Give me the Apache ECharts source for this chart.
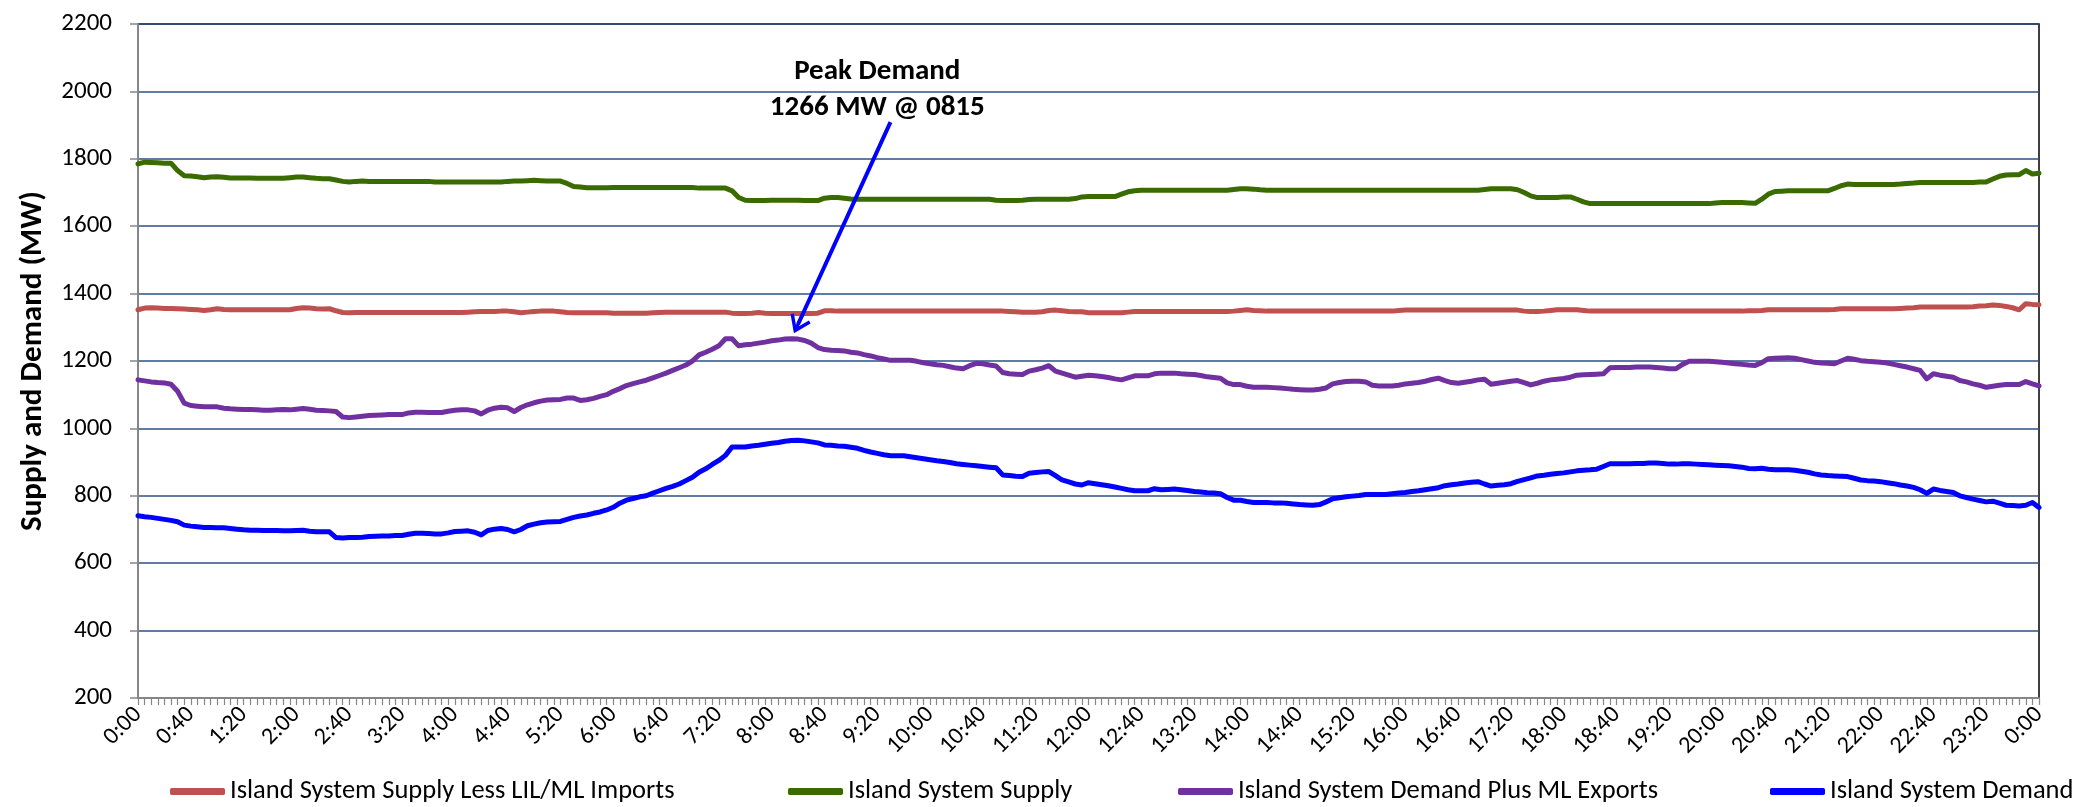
<!DOCTYPE html>
<html>
<head>
<meta charset="utf-8">
<script src="https://cdn.jsdelivr.net/npm/echarts@6/dist/echarts.min.js"></script>
<style>
  html, body { margin: 0; padding: 0; background: #fff; }
  #chart { width: 2080px; height: 807px; }
</style>
</head>
<body>
<div id="chart"></div>
<script>
// x categories: 5 minute steps, 0:00 through the next 0:00
const times = [];
for (let m = 0; m <= 1440; m += 5) {
  const h = Math.floor(m / 60) % 24, mm = m % 60;
  times.push(h + ':' + (mm < 10 ? '0' : '') + mm);
}

const seriesNames = [
  'Island System Supply Less LIL/ML Imports',
  'Island System Supply',
  'Island System Demand Plus ML Exports',
  'Island System Demand'
];

// one row per hour (12 x 5 min), last value is 0:00 next day
const supplyLessImports = [
  1352,1357,1358,1357,1356,1356,1355,1354,1353,1352,1350,1352,
  1355,1353,1352,1352,1352,1352,1352,1352,1352,1352,1352,1352,
  1356,1358,1357,1355,1354,1355,1349,1344,1343,1344,1344,1344,
  1344,1344,1344,1344,1344,1344,1344,1344,1344,1344,1344,1344,
  1344,1344,1345,1346,1347,1347,1347,1348,1348,1346,1343,1345,
  1347,1348,1348,1348,1346,1344,1343,1343,1343,1343,1343,1343,
  1342,1342,1342,1342,1342,1342,1343,1344,1345,1345,1345,1345,
  1345,1345,1345,1345,1345,1345,1342,1341,1341,1342,1344,1342,
  1341,1341,1341,1341,1341,1341,1341,1342,1349,1349,1348,1348,
  1348,1348,1348,1348,1348,1348,1348,1348,1348,1348,1348,1348,
  1348,1348,1348,1348,1348,1348,1348,1348,1348,1348,1348,1348,
  1347,1346,1345,1345,1345,1346,1350,1351,1349,1347,1346,1346,
  1343,1343,1343,1343,1343,1343,1345,1347,1347,1347,1347,1347,
  1347,1347,1347,1347,1347,1347,1347,1347,1347,1347,1348,1350,
  1352,1350,1349,1348,1348,1348,1348,1348,1348,1348,1348,1348,
  1348,1348,1348,1348,1348,1348,1348,1348,1348,1348,1348,1350,
  1351,1351,1351,1351,1351,1351,1351,1351,1351,1351,1351,1351,
  1351,1351,1351,1351,1351,1351,1348,1347,1347,1348,1350,1352,
  1352,1352,1352,1350,1348,1348,1348,1348,1348,1348,1348,1348,
  1348,1348,1348,1348,1348,1348,1348,1348,1348,1348,1348,1348,
  1348,1348,1348,1348,1349,1349,1350,1352,1352,1352,1352,1352,
  1352,1352,1352,1352,1352,1353,1355,1355,1355,1355,1355,1355,
  1355,1355,1355,1356,1357,1358,1360,1360,1360,1360,1360,1360,
  1360,1360,1361,1363,1364,1366,1365,1362,1358,1352,1370,1368,
  1367
];

const supply = [
  1785,1790,1789,1788,1787,1787,1765,1750,1749,1747,1744,1746,
  1747,1745,1743,1743,1743,1743,1742,1742,1742,1742,1742,1744,
  1746,1746,1744,1742,1741,1741,1737,1733,1731,1733,1734,1733,
  1733,1733,1733,1733,1733,1733,1733,1733,1733,1731,1731,1731,
  1731,1731,1731,1731,1731,1731,1731,1731,1733,1734,1734,1735,
  1736,1735,1734,1734,1734,1727,1718,1716,1714,1714,1714,1714,
  1715,1715,1715,1715,1715,1715,1715,1715,1715,1715,1715,1715,
  1715,1713,1713,1713,1713,1713,1705,1685,1677,1676,1676,1676,
  1677,1677,1677,1677,1677,1676,1676,1676,1683,1685,1685,1683,
  1681,1680,1680,1680,1680,1680,1680,1680,1680,1680,1680,1680,
  1680,1680,1680,1680,1680,1680,1680,1680,1680,1680,1677,1676,
  1676,1676,1677,1679,1680,1680,1680,1680,1680,1680,1682,1687,
  1688,1688,1688,1688,1688,1695,1702,1705,1707,1707,1707,1707,
  1707,1707,1707,1707,1707,1707,1707,1707,1707,1707,1709,1711,
  1711,1710,1708,1707,1707,1707,1707,1707,1707,1707,1707,1707,
  1707,1707,1707,1707,1707,1707,1707,1707,1707,1707,1707,1707,
  1707,1707,1707,1707,1707,1707,1707,1707,1707,1707,1707,1707,
  1709,1711,1711,1711,1711,1708,1700,1690,1685,1685,1685,1685,
  1687,1687,1680,1672,1667,1667,1667,1667,1667,1667,1667,1667,
  1667,1667,1667,1667,1667,1667,1667,1667,1667,1667,1667,1669,
  1670,1670,1670,1670,1669,1668,1680,1695,1703,1704,1705,1705,
  1705,1705,1705,1705,1705,1712,1720,1725,1724,1724,1724,1724,
  1724,1724,1724,1725,1727,1728,1730,1730,1730,1730,1730,1730,
  1730,1730,1730,1731,1731,1740,1748,1752,1753,1753,1765,1755,
  1757
];

const demandPlusExports = [
  1144,1141,1138,1136,1135,1131,1110,1075,1068,1066,1064,1064,
  1064,1060,1058,1057,1056,1056,1055,1054,1054,1055,1056,1055,
  1057,1059,1057,1054,1053,1052,1050,1034,1032,1034,1036,1038,
  1039,1040,1041,1041,1041,1046,1048,1048,1047,1047,1047,1051,
  1054,1055,1055,1052,1043,1054,1060,1063,1061,1050,1062,1070,
  1076,1081,1084,1085,1086,1090,1090,1083,1085,1089,1095,1100,
  1110,1118,1127,1133,1138,1143,1150,1157,1164,1172,1180,1188,
  1200,1218,1226,1235,1245,1266,1266,1245,1248,1250,1253,1256,
  1260,1262,1265,1266,1265,1261,1253,1240,1234,1232,1231,1230,
  1226,1224,1219,1215,1210,1206,1202,1202,1202,1202,1199,1195,
  1192,1189,1187,1183,1179,1177,1186,1193,1192,1188,1185,1166,
  1162,1161,1160,1170,1174,1179,1186,1170,1164,1158,1152,1155,
  1158,1156,1154,1151,1147,1144,1150,1156,1156,1156,1162,1164,
  1164,1164,1162,1161,1160,1157,1153,1151,1149,1135,1130,1130,
  1125,1122,1122,1122,1121,1120,1118,1116,1115,1114,1114,1116,
  1120,1132,1136,1139,1140,1140,1138,1128,1126,1126,1126,1128,
  1132,1134,1136,1140,1145,1149,1142,1136,1134,1137,1140,1144,
  1146,1131,1134,1137,1140,1142,1136,1129,1134,1140,1144,1146,
  1148,1152,1158,1159,1160,1161,1162,1180,1181,1181,1181,1182,
  1182,1182,1181,1179,1177,1177,1190,1199,1199,1199,1199,1198,
  1196,1194,1192,1190,1188,1187,1195,1207,1208,1209,1210,1208,
  1204,1200,1196,1194,1193,1192,1200,1208,1205,1201,1199,1198,
  1196,1194,1190,1186,1182,1177,1172,1147,1162,1158,1155,1152,
  1142,1138,1132,1128,1122,1125,1128,1130,1130,1130,1139,1132,
  1126
];

const demand = [
  741,738,736,733,730,727,723,713,710,708,706,706,
  705,705,703,701,699,698,698,697,697,697,696,696,
  697,698,695,693,693,693,676,675,676,676,677,679,
  680,681,681,682,682,686,689,689,688,687,687,690,
  694,695,696,692,684,697,701,703,700,693,700,711,
  716,720,722,723,724,730,736,740,743,748,752,758,
  766,778,787,792,797,800,808,815,822,828,835,845,
  855,870,880,893,905,920,945,945,945,948,950,953,
  956,958,962,964,965,963,960,957,951,950,948,947,
  944,941,935,930,926,922,919,919,919,916,913,910,
  907,904,902,899,895,893,891,889,887,885,883,862,
  860,858,857,867,869,871,872,860,847,841,835,832,
  839,836,833,830,826,822,818,815,815,815,821,818,
  819,820,818,816,813,811,809,808,806,795,787,787,
  783,780,780,780,779,779,778,776,774,773,772,774,
  782,791,794,797,799,801,804,804,804,804,806,808,
  810,813,815,818,821,824,830,833,835,838,840,842,
  835,829,831,833,836,843,848,853,859,861,864,866,
  868,871,874,876,877,879,887,895,895,895,895,896,
  896,897,897,896,894,894,895,895,894,893,892,891,
  890,889,887,885,881,880,882,879,877,877,877,876,
  873,870,865,862,860,859,858,857,852,847,845,844,
  842,839,836,832,829,825,818,807,820,816,813,810,
  800,795,790,786,782,784,778,772,771,770,772,780,
  765
];

const seriesColors = ['#C0504D', '#3A6B00', '#7030A0', '#0000FF'];

// annotation: text position and arrow (category index, MW)
const peakText = 'Peak Demand\n1266 MW @ 0815';
const peakTextAt = [112, 2004];
const arrowFrom = [114, 1909];
const arrowTo = [100, 1309];

const font = 'Carlito, Lato, "Liberation Sans", sans-serif';
const legendLeft = [165, 783, 1173, 1765];

const chart = echarts.init(document.getElementById('chart'));

function lineSeries(name, data, color) {
  return {
    name: name,
    type: 'line',
    data: data,
    symbol: 'none',
    smooth: false,
    lineStyle: { color: color, width: 5, cap: 'round', join: 'round' },
    itemStyle: { color: color },
    emphasis: { disabled: true }
  };
}

const series = [
  lineSeries(seriesNames[0], supplyLessImports, seriesColors[0]),
  lineSeries(seriesNames[1], supply, seriesColors[1]),
  lineSeries(seriesNames[2], demandPlusExports, seriesColors[2]),
  lineSeries(seriesNames[3], demand, seriesColors[3])
];

// arrow from the label down to the peak
series[3].markLine = {
  silent: true,
  animation: false,
  symbol: ['none', 'path://M10,0 L20,16 L17.5,18 L11.5,8.5 L11.5,20 L8.5,20 L8.5,8.5 L2.5,18 L0,16 Z'],
  symbolSize: [22, 20],
  label: { show: false },
  lineStyle: { color: '#0000FF', width: 4, type: 'solid' },
  data: [[{ coord: arrowFrom }, { coord: arrowTo }]]
};
series[2].markPoint = {
  silent: true,
  animation: false,
  symbol: 'rect',
  symbolSize: 0,
  label: {
    show: true,
    position: 'inside',
    formatter: peakText,
    fontFamily: font,
    fontSize: 29,
    fontWeight: 'bold',
    lineHeight: 36,
    color: '#000'
  },
  data: [{ coord: peakTextAt }]
};

const option = {
  animation: false,
  backgroundColor: '#fff',
  grid: {
    left: 138, right: 41, top: 24, bottom: 109,
    containLabel: false,
    outerBoundsMode: 'none',
    show: true,
    borderColor: '#000',
    borderWidth: 1.5
  },
  legend: seriesNames.map(function (n, k) {
    return {
      data: [n],
      left: legendLeft[k],
      top: 773,
      icon: 'roundRect',
      itemWidth: 55,
      itemHeight: 7,
      selectedMode: false,
      textStyle: { fontFamily: font, fontSize: 26.5, color: '#000' }
    };
  }),
  xAxis: {
    type: 'category',
    data: times,
    boundaryGap: false,
    axisLine: { lineStyle: { color: '#868686', width: 2 } },
    axisTick: { show: true, interval: 0, length: 7, lineStyle: { color: '#868686', width: 1.2 } },
    axisLabel: { interval: 7, rotate: 45, margin: 13, fontFamily: font, fontSize: 24, color: '#000' },
    splitLine: { show: false }
  },
  yAxis: {
    type: 'value',
    min: 200,
    max: 2200,
    interval: 200,
    name: 'Supply and Demand (MW)',
    nameLocation: 'middle',
    nameRotate: 90,
    nameGap: 89,
    nameTextStyle: { fontFamily: font, fontSize: 31, fontWeight: 'bold', color: '#000' },
    axisLine: { show: true, lineStyle: { color: '#868686', width: 2 } },
    axisTick: { show: true, length: 8, lineStyle: { color: '#868686', width: 1.5 } },
    axisLabel: {
      margin: 26, fontFamily: font, fontSize: 25, color: '#000',
      formatter: function (v) { return String(v); }
    },
    splitLine: { show: true, lineStyle: { color: '#2C4F86', width: 1.5 } }
  },
  series: series
};

chart.setOption(option);
</script>
</body>
</html>
